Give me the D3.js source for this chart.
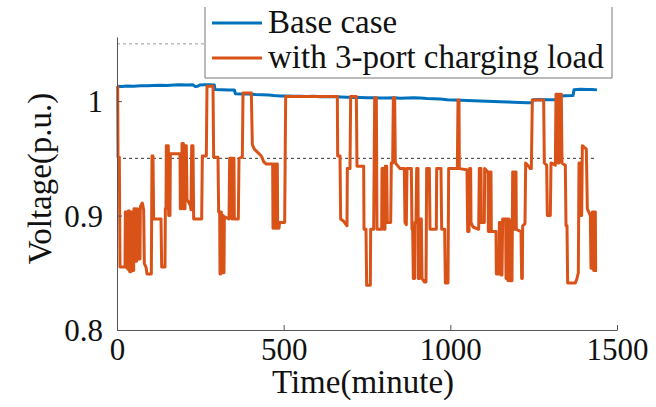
<!DOCTYPE html>
<html>
<head>
<meta charset="utf-8">
<script src="https://cdn.jsdelivr.net/npm/d3@7/dist/d3.min.js"></script>
<style>
  html, body { margin: 0; padding: 0; background: #fff; }
  svg { display: block; }
</style>
</head>
<body>
<svg id="chart" width="656" height="407"></svg>
<script>
// Feeder voltage over one day (minute resolution), with and without a 3-port EV charger.
const xTicks = [0, 500, 1000, 1500];
const yTicks = [0.8, 0.9, 1];
const xDomain = [0, 1500];
const yDomain = [0.8, 1.056];
const limitLines = [1.05, 0.95];
const limitSpan = [0, 1440];
const seriesNames = ["Base case", "with 3-port charging load"];
const seriesColors = ["#0072BD", "#D95319"];

// [minute, voltage p.u.]
const baseCase = [
  [0,1.0130],[15,1.0128],[30,1.0132],[50,1.0130],[70,1.0134],[90,1.0133],[110,1.0136],
  [130,1.0138],[150,1.0137],[170,1.0140],[190,1.0142],[210,1.0141],[228,1.0142],[234,1.0128],
  [242,1.0130],[248,1.0141],[265,1.0143],[280,1.0142],[292,1.0140],[294,1.0102],[315,1.0100],
  [335,1.0098],[352,1.0097],[355,1.0065],[375,1.0063],[395,1.0062],[415,1.0058],[435,1.0056],
  [455,1.0054],[470,1.0048],[490,1.0045],[510,1.0044],[530,1.0042],[550,1.0043],[570,1.0040],
  [590,1.0042],[610,1.0039],[630,1.0038],[650,1.0040],[670,1.0036],[690,1.0033],[710,1.0031],
  [730,1.0032],[750,1.0029],[770,1.0030],[790,1.0028],[810,1.0026],[830,1.0029],[850,1.0025],
  [870,1.0027],[890,1.0030],[910,1.0026],[930,1.0022],[950,1.0020],[970,1.0018],[990,1.0012],
  [1010,1.0010],[1030,1.0008],[1050,1.0006],[1070,1.0004],[1090,1.0001],[1110,0.9999],
  [1130,0.9997],[1150,0.9995],[1170,0.9992],[1190,0.9990],[1210,0.9988],[1230,0.9986],
  [1245,0.9985],[1248,1.0012],[1270,1.0013],[1290,1.0011],[1310,1.0012],[1320,1.0014],
  [1322,1.0045],[1345,1.0047],[1368,1.0048],[1371,1.0100],[1390,1.0103],[1410,1.0101],
  [1425,1.0102],[1440,1.0098]
];

// [minute, voltage p.u.]
const withCharging = [
  [0,1.013],[2,1.013],[3,0.951],[7,0.951],[9,0.855],
  [24,0.855],[25,0.903],[28,0.903],[29,0.855],[33,0.853],[34,0.904],[37,0.904],[38,0.851],
  [42,0.851],[43,0.903],[45,0.903],[46,0.852],[50,0.852],[51,0.906],[54,0.906],[55,0.86],
  [59,0.86],[60,0.906],[64,0.905],[65,0.862],[69,0.862],[70,0.908],[76,0.911],[80,0.905],
  [82,0.858],[87,0.855],[90,0.849],[103,0.849],[105,0.952],[108,0.952],[110,0.897],[132,0.897],
  [134,0.855],[144,0.855],[145,0.906],[147,0.906],[148,0.961],[154,0.961],[155,0.900],[159,0.900],
  [160,0.954],[189,0.954],[190,0.906],[194,0.906],[195,0.963],[199,0.963],[200,0.906],[204,0.906],
  [205,0.961],[208,0.961],[210,0.914],[220,0.909],[222,0.905],[224,0.961],[228,0.961],[230,0.897],
  [254,0.897],[256,0.952],[268,0.952],[270,1.013],[288,1.013],
  [290,0.951],[303,0.951],[305,0.903],[308,0.903],[309,0.849],[311,0.849],[311,0.903],[313,0.903],
  [314,0.85],[316,0.85],[317,0.9],[318,0.9],[319,0.85],[321,0.85],[322,0.899],[336,0.897],
  [338,0.95],[344,0.95],[345,0.897],[347,0.897],[348,0.95],[351,0.95],[352,0.897],[364,0.897],
  [366,0.95],[376,0.951],[378,1.007],[403,1.007],[406,0.962],[412,0.958],[433,0.952],[440,0.947],
  [448,0.945],[467,0.945],[468,0.889],[471,0.889],[472,0.945],[474,0.945],[475,0.889],[478,0.889],
  [479,0.945],[481,0.945],[482,0.889],[486,0.889],[488,0.894],[503,0.894],[506,1.004],[661,1.004],
  [662,0.952],[669,0.952],[671,0.897],[680,0.895],[690,0.891],[691,0.941],[699,0.941],[701,1.004],
  [718,1.004],[720,0.943],[740,0.943],[741,0.888],[747,0.888],[749,0.839],[760,0.839],[761,0.888],
  [770,0.888],[773,1.003],[778,1.003],[780,0.888],[794,0.888],[795,0.941],[799,0.941],[800,0.888],
  [804,0.888],[805,0.943],[809,0.943],[811,0.894],[821,0.894],[823,0.946],[827,0.946],[829,1.003],
  [833,1.003],[835,0.946],[849,0.941],
  [862,0.941],[864,0.894],[868,0.892],[870,0.941],[883,0.941],[885,0.888],[887,0.888],[889,0.845],
  [893,0.845],[894,0.894],[897,0.894],[899,0.941],[903,0.941],[904,0.845],[908,0.845],[909,0.897],
  [913,0.897],[915,0.845],[922,0.842],[927,0.842],[929,0.941],[937,0.941],[939,0.888],[958,0.888],
  [959,0.941],[972,0.941],[974,0.888],[983,0.888],[985,0.841],[993,0.841],[995,0.941],[1021,0.941],
  [1023,1.001],[1026,1.001],[1027,0.941],[1050,0.940],[1052,0.886],[1056,0.886],[1058,0.941],
  [1061,0.941],[1062,0.894],[1068,0.890],[1085,0.888],[1087,0.941],[1092,0.941],[1093,0.894],
  [1102,0.894],[1103,0.941],[1113,0.938],[1114,0.886],[1118,0.886],[1119,0.938],[1122,0.938],
  [1123,0.886],[1137,0.886],
  [1138,0.849],[1146,0.849],[1147,0.894],[1150,0.894],[1152,0.848],[1155,0.848],[1157,0.897],
  [1166,0.897],[1167,0.845],[1169,0.845],[1170,0.897],[1172,0.897],[1173,0.843],[1175,0.843],
  [1176,0.897],[1178,0.895],[1180,0.843],[1185,0.843],[1187,0.938],[1191,0.938],[1192,0.888],
  [1194,0.888],[1195,0.938],[1197,0.938],[1198,0.888],[1212,0.886],[1214,0.845],[1216,0.845],
  [1217,0.891],[1224,0.893],[1226,0.946],[1232,0.944],[1240,0.941],[1243,0.941],[1246,1.001],
  [1280,1.001],[1282,0.946],[1289,0.944],[1291,0.900],[1300,0.900],[1302,0.946],[1315,0.944],
  [1317,1.006],[1322,1.006],[1323,0.946],[1326,0.946],[1327,1.006],[1333,1.006],[1335,0.946],
  [1345,0.944],[1347,0.891],[1350,0.891],[1352,0.841],[1375,0.841],[1380,0.845],[1384,0.850],
  [1386,0.946],[1389,0.946],[1391,0.900],[1394,0.900],[1396,0.961],[1408,0.958],[1411,0.906],
  [1420,0.900],[1422,0.854],[1425,0.854],[1426,0.903],[1429,0.903],[1430,0.852],[1432,0.852],
  [1433,0.903],[1435,0.903],[1436,0.852],[1440,0.852]
];

const serif = "'Liberation Serif', 'Times New Roman', serif";

const svg = d3.select("#chart");
svg.append("rect").attr("width", 656).attr("height", 407).attr("fill", "#fff");

const plot = { left: 117, right: 617, top: 37, bottom: 330 };
const x = d3.scaleLinear().domain(xDomain).range([plot.left, plot.right]);
const y = d3.scaleLinear().domain(yDomain).range([plot.bottom, plot.top]);

const axisColor = "#555";
const tickFont = 31;
const titleFont = 33;

// Voltage limit guides
svg.append("g").selectAll("line").data(limitLines).join("line")
  .attr("x1", x(limitSpan[0])).attr("x2", x(limitSpan[1]))
  .attr("y1", d => y(d)).attr("y2", d => y(d))
  .attr("stroke", (d, i) => i === 0 ? "#999" : "#333")
  .attr("stroke-width", 1)
  .attr("stroke-dasharray", "3,3");

// Series
const line = d3.line().x(d => x(d[0])).y(d => y(d[1]));
const series = [baseCase, withCharging];
svg.append("g").selectAll("path").data(series).join("path")
  .attr("d", line)
  .attr("fill", "none")
  .attr("stroke", (d, i) => seriesColors[i])
  .attr("stroke-width", 3)
  .attr("stroke-linejoin", "round");

// Axes (ticks point inward)
const xAxis = svg.append("g")
  .attr("transform", `translate(0,${plot.bottom})`)
  .call(d3.axisBottom(x).tickValues(xTicks).tickFormat(d3.format("d"))
    .tickSizeInner(-5).tickSizeOuter(0));
xAxis.selectAll("text").attr("y", 30).attr("dy", 0);

const yAxis = svg.append("g")
  .attr("transform", `translate(${plot.left},0)`)
  .call(d3.axisLeft(y).tickValues(yTicks).tickFormat(d => d === 1 ? "1" : d3.format(".1f")(d))
    .tickSizeInner(-5).tickSizeOuter(0));
yAxis.selectAll("text").attr("x", -14).attr("dy", "0.34em");

[xAxis, yAxis].forEach(g => {
  g.attr("font-family", serif).attr("font-size", tickFont);
  g.selectAll("text").style("font-family", serif).style("font-size", tickFont + "px").attr("fill", "#111");
  g.select(".domain").attr("stroke", axisColor).attr("stroke-width", 1);
  g.selectAll(".tick line").attr("stroke", axisColor);
});

// Axis titles
svg.append("text")
  .attr("x", (plot.left + plot.right) / 2 - 4).attr("y", 393)
  .attr("text-anchor", "middle")
  .style("font-family", serif).style("font-size", titleFont + "px").attr("fill", "#111")
  .text("Time(minute)");

svg.append("text")
  .attr("transform", `translate(51,${(plot.top + plot.bottom) / 2 - 5}) rotate(-90)`)
  .attr("text-anchor", "middle")
  .style("font-family", serif).style("font-size", titleFont + "px").attr("fill", "#111")
  .text("Voltage(p.u.)");

// Legend
const legend = { left: 205, right: 612, top: 7, bottom: 78 };
const lg = svg.append("g");
lg.append("rect")
  .attr("x", legend.left).attr("y", legend.top)
  .attr("width", legend.right - legend.left).attr("height", legend.bottom - legend.top)
  .attr("fill", "#fff");
lg.append("path")
  .attr("d", `M${legend.left},${legend.top}V${legend.bottom}H${legend.right}V${legend.top}`)
  .attr("fill", "none").attr("stroke", "#777").attr("stroke-width", 1);

const rows = [23, 58];
seriesNames.forEach((name, i) => {
  lg.append("line")
    .attr("x1", 212).attr("x2", 262).attr("y1", rows[i]).attr("y2", rows[i])
    .attr("stroke", seriesColors[i]).attr("stroke-width", 3);
  lg.append("text")
    .attr("x", 268).attr("y", rows[i] + 10)
    .style("font-family", serif).style("font-size", "33px").attr("fill", "#111")
    .text(name);
});
</script>
</body>
</html>
